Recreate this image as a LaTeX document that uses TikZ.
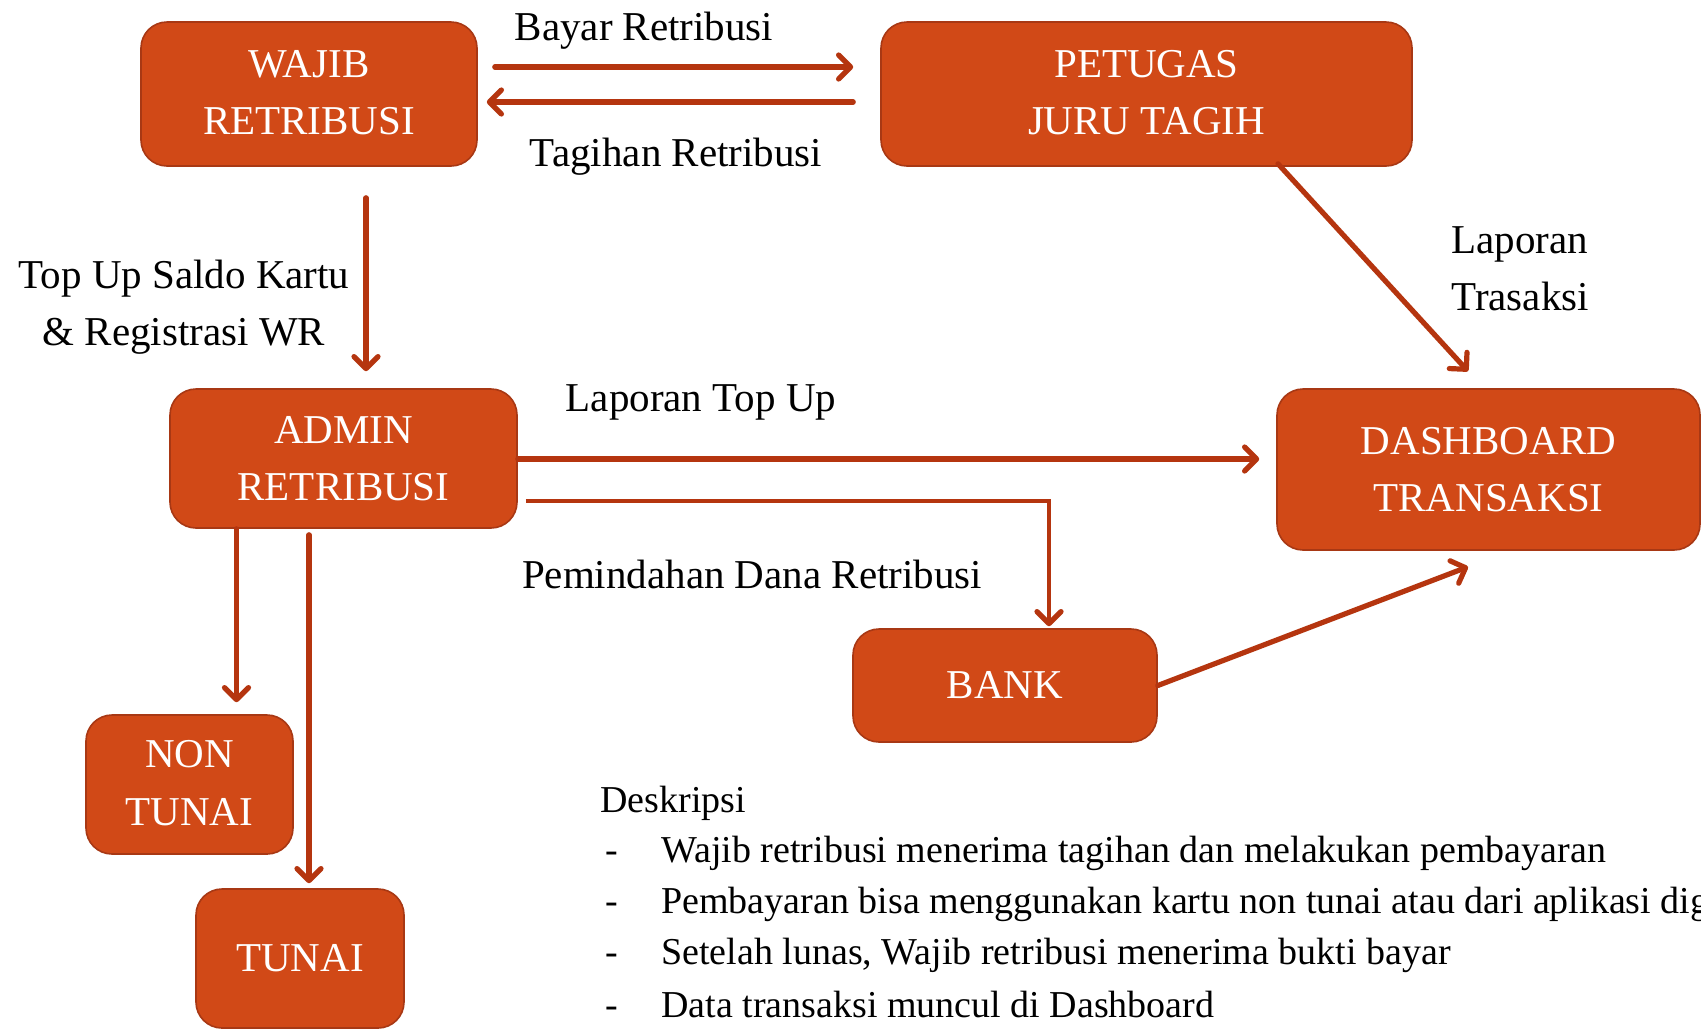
\documentclass[tikz,border=0pt]{standalone}
\usepackage{fontspec}
\setmainfont{Liberation Serif}
\usetikzlibrary{arrows.meta,calc}
\definecolor{boxfill}{RGB}{209,73,23}
\definecolor{boxline}{RGB}{168,56,20}
\definecolor{arrcol}{RGB}{181,53,15}
\begin{document}
\begin{tikzpicture}[x=0.5pt,y=-0.5pt,
  box/.style={draw=boxline, line width=0.8pt, fill=boxfill, rounded corners=13pt, text=white, align=center, font=\fontsize{20.5}{28.7}\selectfont, inner sep=0pt},
  arr/.style={draw=arrcol, line width=2.6pt, line cap=round, -{Straight Barb[length=6pt,width=12pt,round]}},
  thinarr/.style={draw=arrcol, line width=1.6pt, -{Straight Barb[length=6pt,width=12pt,round,line width=2.6pt]}},
  lbl/.style={font=\fontsize{20.5}{28.7}\selectfont, inner sep=0pt, align=center},
  lst/.style={font=\fontsize{19}{24}\selectfont, inner sep=0pt, anchor=west}
]
\useasboundingbox (0,0) rectangle (1701,1030);
\clip (0,0) rectangle (1701,1030);
\fill[white] (0,0) rectangle (1701,1030);

\node[box, minimum width=168pt, minimum height=72pt] (wajib) at (309,94) {\raisebox{1.5pt}{WAJIB}\\\raisebox{1.5pt}{RETRIBUSI}};
\node[box, minimum width=265.5pt, minimum height=72pt] (petugas) at (1146.5,94) {\raisebox{1.5pt}{PETUGAS}\\\raisebox{1.5pt}{JURU TAGIH}};
\node[box, minimum width=173.5pt, minimum height=69.5pt] (admin) at (343.5,458.5) {ADMIN\\RETRIBUSI};
\node[box, minimum width=211.5pt, minimum height=80.5pt] (dash) at (1488.5,469.5) {DASHBOARD\\TRANSAKSI};
\node[box, minimum width=152pt, minimum height=56.5pt] (bank) at (1005,685.5) {BANK};
\node[box, minimum width=103.5pt, minimum height=69.5pt] (non) at (189.5,784.5) {\raisebox{1.5pt}{NON}\\\raisebox{1.5pt}{TUNAI}};
\node[box, minimum width=104pt, minimum height=69.5pt] (tunai) at (300,958.5) {TUNAI};

\draw[arr] ($(wajib.east)+(17,-27)$) -- ($(petugas.west)+(-27,-27)$);
\draw[arr] ($(petugas.west)+(-27,8)$) -- ($(wajib.east)+(9,8)$);
\draw[arr] ($(petugas.south)+(131.5,-3)$) -- ($(dash.north)+(-20.5,-17)$);
\draw[arr] ($(wajib.south)+(57,31)$) -- ($(admin.north)+(22.5,-17)$);
\draw[arr] ($(admin.east)+(0,0.5)$) -- ($(dash.west)+(-17,-10.5)$);
\draw[thinarr] ($(admin.east)+(8,42.5)$) -| ($(bank.north)+(44,-2)$);
\draw[arr] (bank.east) -- ($(dash.south)+(-20.5,16)$);
\draw[arr] ($(admin.south)+(-107,0)$) -- ($(non.north)+(47,-12)$);
\draw[arr] ($(admin.south)+(-34.5,6)$) -- ($(tunai.north)+(9,-5)$);

\node[lbl] (l1) at (644,31) {Bayar Retribusi};
\node[lbl] (l2) at (676,157) {Tagihan Retribusi};
\node[lbl, align=left, anchor=west] (l3) at (1451,269) {Laporan\\Trasaksi};
\node[lbl] (l4) at (184,307) {Top Up Saldo Kartu\\\& Registrasi WR};
\node[lbl] (l5) at (701,402) {Laporan Top Up};
\node[lbl] (l6) at (752,574) {Pemindahan Dana Retribusi};

\node[lst] (d0) at (600,803) {Deskripsi};
\node[lst] (t1) at (605,853) {\makebox[28pt][l]{-}Wajib retribusi menerima tagihan dan melakukan pembayaran};
\node[lst] (t2) at (605,904) {\makebox[28pt][l]{-}Pembayaran bisa menggunakan kartu non tunai atau dari aplikasi digital};
\node[lst] (t3) at (605,955) {\makebox[28pt][l]{-}Setelah lunas, Wajib retribusi menerima bukti bayar};
\node[lst] (t4) at (605,1004) {\makebox[28pt][l]{-}Data transaksi muncul di Dashboard};
\end{tikzpicture}
\end{document}
